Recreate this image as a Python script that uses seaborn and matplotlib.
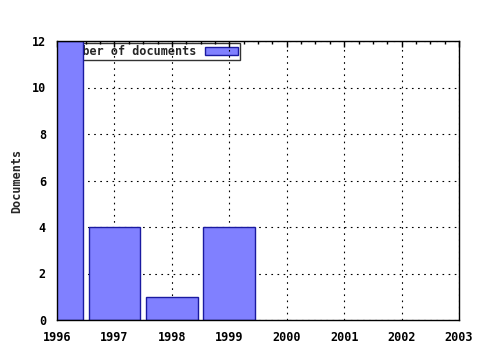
import matplotlib
matplotlib.use("Agg")
import matplotlib.pyplot as plt
import seaborn as sns
import pandas as pd
from matplotlib.ticker import MultipleLocator

years = [1996, 1997, 1998, 1999]
documents = [12, 4, 1, 4]
series_label = "Number of documents"
x_ticks = [1996, 1997, 1998, 1999, 2000, 2001, 2002, 2003]
y_ticks = [0, 2, 4, 6, 8, 10, 12]

sns.set_style("white")
plt.rcParams['font.family'] = ['DejaVu Sans Mono']
plt.rcParams['font.weight'] = 'bold'

df = pd.DataFrame({"year": years, "docs": documents, "s": series_label})

fig = plt.figure(figsize=(4.8, 3.5), dpi=100)
ax = fig.add_axes([57/480, 1-320/350, (459-57)/480, (320-41)/350])

sns.barplot(data=df, x="year", y="docs", hue="s", native_scale=True, width=0.9,
            palette=["#8080ff"], saturation=1, edgecolor="#1a1aa0", linewidth=1.0, ax=ax,
            zorder=3, legend=True)

ax.set_xlim(1996, 2003)
ax.set_ylim(0, 12)
ax.set_xticks(x_ticks)
ax.set_xticklabels([str(t) for t in x_ticks], fontsize=8.5, fontweight='bold')
ax.set_yticks(y_ticks)
ax.set_yticklabels([str(t) for t in y_ticks], fontsize=8.5, fontweight='bold')
ax.xaxis.set_minor_locator(MultipleLocator(0.25))
ax.tick_params(axis='both', which='both', direction='in', top=True, right=False,
               colors='black', length=4, width=1, pad=8)
ax.tick_params(axis='x', which='minor', length=2)
ax.set_xlabel("")
ax.set_ylabel("Documents", fontsize=8.5, fontweight='bold', labelpad=6)

ax.grid(True, which='major', linestyle=(0, (1.5, 4)), color='black', linewidth=0.8, zorder=0.5)
ax.set_axisbelow(False)
for l in ax.get_xgridlines() + ax.get_ygridlines():
    l.set_zorder(0.5)
for s in ax.spines.values():
    s.set_color('black')
    s.set_linewidth(1.0)
    s.set_zorder(4)

leg = ax.legend(loc='upper left', markerfirst=False, frameon=True, fancybox=False,
                prop={'family': 'DejaVu Sans Mono', 'weight': 'bold', 'size': 8.5},
                borderpad=0.2, handlelength=2.8, handleheight=0.6,
                borderaxespad=0.15, handletextpad=0.7)
leg.get_frame().set_edgecolor('black')
leg.get_frame().set_linewidth(1.0)
leg.set_zorder(1)

fig.savefig("out.png", dpi=100)
